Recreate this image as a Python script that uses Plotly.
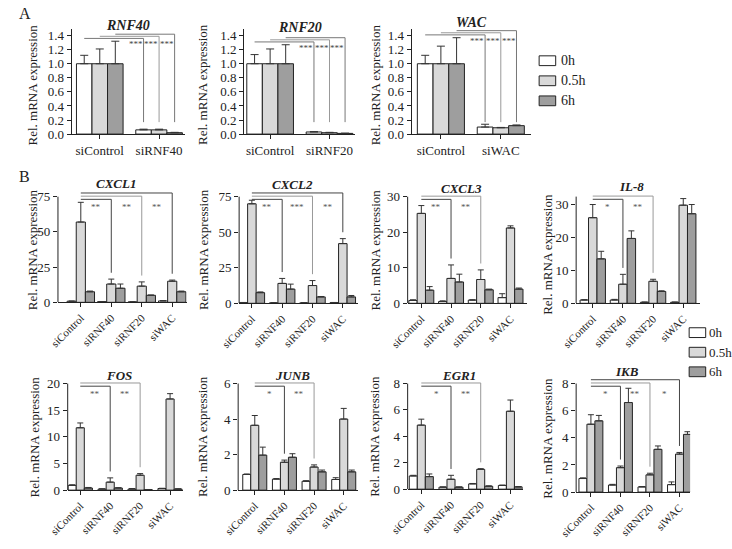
import plotly.graph_objects as go

W, H = 732, 549
FONT = "Liberation Serif, Times New Roman, serif"

# ---------------- data ----------------
series_names = ["0h", "0.5h", "6h"]

# Panel A (knock-down efficiency)
rnf40_cats = ["siControl", "siRNF40"]
rnf40_mean = [[1.0, 0.06], [1.0, 0.06], [1.0, 0.02]]
rnf40_err = [[0.12, 0.01], [0.21, 0.01], [0.32, 0.005]]

rnf20_cats = ["siControl", "siRNF20"]
rnf20_mean = [[1.0, 0.03], [1.0, 0.02], [1.0, 0.01]]
rnf20_err = [[0.13, 0.005], [0.21, 0.005], [0.27, 0.003]]

wac_cats = ["siControl", "siWAC"]
wac_mean = [[1.0, 0.10], [1.0, 0.09], [1.0, 0.12]]
wac_err = [[0.12, 0.04], [0.25, 0.005], [0.37, 0.01]]

a_stars = ["***", "***", "***"]

# Panel B (target genes)
b_cats = ["siControl", "siRNF40", "siRNF20", "siWAC"]

cxcl1_mean = [[0.8, 0.5, 0.3, 1.0], [57.0, 13.0, 11.5, 15.0], [7.5, 10.0, 5.0, 7.5]]
cxcl1_err = [[0.1, 0.1, 0.1, 0.2], [14.0, 3.5, 3.0, 0.8], [0.5, 3.0, 0.2, 0.5]]
cxcl1_targets = [1, 2, 3]
cxcl1_stars = ["**", "**", "**"]

cxcl2_mean = [[0.5, 0.3, 0.3, 0.5], [70.0, 14.0, 12.5, 42.0], [7.5, 10.0, 4.5, 4.5]]
cxcl2_err = [[0.1, 0.1, 0.1, 0.1], [2.5, 3.5, 3.5, 3.5], [0.5, 3.5, 0.3, 1.0]]
cxcl2_targets = [1, 2, 3]
cxcl2_stars = ["**", "***", "**"]

cxcl3_mean = [[0.8, 0.5, 0.9, 1.6], [25.3, 7.0, 6.7, 21.2], [3.7, 6.0, 3.8, 4.0]]
cxcl3_err = [[0.2, 0.2, 0.1, 1.1], [2.2, 3.8, 2.7, 0.6], [1.0, 2.2, 0.2, 0.3]]
cxcl3_targets = [1, 2]
cxcl3_stars = ["**", "**"]

il8_mean = [[1.0, 1.0, 0.3, 0.3], [26.0, 5.8, 6.7, 29.8], [13.5, 19.7, 3.6, 27.2]]
il8_err = [[0.1, 0.2, 0.1, 0.1], [4.0, 3.0, 0.6, 2.0], [2.3, 2.3, 0.2, 2.8]]
il8_targets = [1, 2]
il8_stars = ["*", "**"]

fos_mean = [[0.9, 0.2, 0.2, 0.3], [11.7, 1.5, 2.8, 17.1], [0.4, 0.4, 0.1, 0.2]]
fos_err = [[0.1, 0.05, 0.1, 0.05], [0.9, 0.8, 0.3, 1.0], [0.1, 0.05, 0.02, 0.05]]
fos_targets = [1, 2]
fos_stars = ["**", "**"]

junb_mean = [[0.88, 0.62, 0.5, 0.6], [3.65, 1.57, 1.3, 4.0], [1.97, 1.85, 1.03, 1.03]]
junb_err = [[0.03, 0.03, 0.03, 0.1], [0.55, 0.12, 0.12, 0.6], [0.45, 0.2, 0.1, 0.1]]
junb_targets = [1, 2]
junb_stars = ["*", "**"]

egr1_mean = [[1.0, 0.15, 0.4, 0.28], [4.85, 0.75, 1.5, 5.9], [0.95, 0.15, 0.22, 0.17]]
egr1_err = [[0.05, 0.02, 0.03, 0.03], [0.45, 0.3, 0.05, 0.85], [0.2, 0.02, 0.03, 0.03]]
egr1_targets = [1, 2]
egr1_stars = ["*", "**"]

ikb_mean = [[1.0, 0.52, 0.38, 0.55], [5.0, 1.8, 1.27, 2.8], [5.25, 6.6, 3.15, 4.25]]
ikb_err = [[0.05, 0.05, 0.03, 0.2], [0.7, 0.12, 0.12, 0.12], [0.4, 1.05, 0.25, 0.2]]
ikb_targets = [1, 2, 3]
ikb_stars = ["*", "**", "*"]

# ---------------- styles / layout ----------------
bar_colors = ["#ffffff", "#d9d9d9", "#9e9e9e"]
edge = "#222222"

panels = [
    dict(title="RNF40", cats=rnf40_cats, mean=rnf40_mean, err=rnf40_err, stars=a_stars,
         l=54, r=170, y0=133, yt=32.3, tick_top=1.4, rtop=1.5, xr=[-0.475, 1.43], dtick=0.2,
         fmt=".1f", bw=0.262, ytx=14, tty=22, kind="A"),
    dict(title="RNF20", cats=rnf20_cats, mean=rnf20_mean, err=rnf20_err, stars=a_stars,
         l=231, r=345, y0=133, yt=32.3, tick_top=1.4, rtop=1.5, xr=[-0.44, 1.43], dtick=0.2,
         fmt=".1f", bw=0.262, ytx=189, tty=24, kind="A"),
    dict(title="WAC", cats=wac_cats, mean=wac_mean, err=wac_err, stars=a_stars,
         l=403, r=526, y0=133, yt=32.3, tick_top=1.4, rtop=1.5, xr=[-0.49, 1.51], dtick=0.2,
         fmt=".1f", bw=0.262, ytx=366, tty=19, kind="A"),
    dict(title="CXCL1", cats=b_cats, mean=cxcl1_mean, err=cxcl1_err, targets=cxcl1_targets,
         stars=cxcl1_stars, l=40, r=172, y0=305, yt=197, tick_top=75, axis_top=75, rtop=79.5,
         xr=[-0.75, 3.47], dtick=25, fmt="d", bw=0.3, ytx=14, tty=184, kind="B"),
    dict(title="CXCL2", cats=b_cats, mean=cxcl2_mean, err=cxcl2_err, targets=cxcl2_targets,
         stars=cxcl2_stars, l=226, r=348, y0=306, yt=197, tick_top=75, axis_top=75, rtop=79.5,
         xr=[-0.42, 3.5], dtick=25, fmt="d", bw=0.28, ytx=189, tty=185, kind="B"),
    dict(title="CXCL3", cats=b_cats, mean=cxcl3_mean, err=cxcl3_err, targets=cxcl3_targets,
         stars=cxcl3_stars, l=399, r=522, y0=306, yt=197, tick_top=30, axis_top=30, rtop=31.3,
         xr=[-0.46, 3.57], dtick=10, fmt="d", bw=0.28, ytx=366, tty=189, kind="B"),
    dict(title="IL-8", cats=b_cats, mean=il8_mean, err=il8_err, targets=il8_targets,
         stars=il8_stars, l=572, r=699, y0=306, yt=205, tick_top=30, axis_top=32.4, rtop=33.3,
         xr=[-0.55, 3.55], dtick=10, fmt="d", bw=0.28, ytx=543, tty=187, kind="B"),
    dict(title="FOS", cats=b_cats, mean=fos_mean, err=fos_err, targets=fos_targets,
         stars=fos_stars, l=50, r=168, y0=497, yt=388, tick_top=20, axis_top=20, rtop=20.7,
         xr=[-0.42, 3.42], dtick=5, fmt="d", bw=0.27, ytx=16, tty=380, kind="B"),
    dict(title="JUNB", cats=b_cats, mean=junb_mean, err=junb_err, targets=junb_targets,
         stars=junb_stars, l=225, r=348, y0=497, yt=388, tick_top=6, axis_top=6, rtop=6.4,
         xr=[-0.56, 3.48], dtick=2, fmt="d", bw=0.27, ytx=189, tty=380, kind="B"),
    dict(title="EGR1", cats=b_cats, mean=egr1_mean, err=egr1_err, targets=egr1_targets,
         stars=egr1_stars, l=399, r=517, y0=496, yt=388, tick_top=8, axis_top=8, rtop=8.25,
         xr=[-0.46, 3.41], dtick=2, fmt="d", bw=0.27, ytx=365, tty=380, kind="B"),
    dict(title="IKB", cats=b_cats, mean=ikb_mean, err=ikb_err, targets=ikb_targets,
         stars=ikb_stars, l=572, r=689, y0=499, yt=388, tick_top=8, axis_top=8, rtop=8.5,
         xr=[-0.5, 3.36], dtick=2, fmt="d", bw=0.27, ytx=543, tty=376, kind="B"),
]


def fx(px):
    return px / W


def fy(px):
    return 1 - px / H


fig = go.Figure()
layout = dict(
    width=W, height=H, margin=dict(l=0, r=0, t=0, b=0),
    paper_bgcolor="white", plot_bgcolor="white", showlegend=False,
    barmode="overlay", font=dict(family=FONT, color="#222222", size=13),
)
shapes = []
annotations = []

for i, p in enumerate(panels, start=1):
    xs = "x" if i == 1 else f"x{i}"
    ys = "y" if i == 1 else f"y{i}"
    xk = "xaxis" if i == 1 else f"xaxis{i}"
    yk = "yaxis" if i == 1 else f"yaxis{i}"
    n = len(p["cats"])
    bw = p["bw"]
    ppu = (p["y0"] - p["yt"]) / p["tick_top"]  # pixels per data unit
    top_px = p["y0"] - p["rtop"] * ppu
    is_a = p["kind"] == "A"

    for k in range(3):
        fig.add_trace(go.Bar(
            x=list(range(n)), y=p["mean"][k], width=bw, offset=-1.5 * bw + k * bw,
            marker=dict(color=bar_colors[k], line=dict(color=edge, width=1)),
            error_y=dict(type="data", symmetric=False, array=p["err"][k],
                         arrayminus=[0] * n, color="#333333", thickness=1,
                         width=4 if is_a else 3),
            xaxis=xs, yaxis=ys, name=series_names[k], hoverinfo="skip",
        ))

    layout[xk] = dict(
        domain=[fx(p["l"]), fx(p["r"])], anchor=ys, range=p["xr"],
        tickvals=list(range(n)), ticktext=p["cats"], tickangle=0 if is_a else -45,
        showline=True, linecolor=edge, linewidth=1, ticks="outside", ticklen=4,
        tickcolor=edge, showgrid=False, zeroline=False,
        tickfont=dict(family=FONT, size=13 if is_a else 11, color="#222222"),
    )
    layout[yk] = dict(
        domain=[fy(p["y0"]), fy(top_px)], anchor=xs, range=[0, p["rtop"]],
        tick0=0, dtick=p["dtick"], tickformat=p["fmt"],
        showline=is_a, linecolor=edge, linewidth=1, ticks="outside", ticklen=4,
        tickcolor=edge, showgrid=False, zeroline=False,
        tickfont=dict(family=FONT, size=13, color="#222222"),
    )
    if not is_a:
        shapes.append(dict(type="line", xref=f"{xs} domain", x0=0, x1=0, yref=ys,
                           y0=0, y1=p["axis_top"], line=dict(color=edge, width=1)))

    annotations.append(dict(
        text=f"<b><i>{p['title']}</i></b>", xref=f"{xs} domain", x=0.5 if is_a else 0.45,
        yref="paper", y=fy(p["tty"]), showarrow=False, xanchor="center", yanchor="middle",
        font=dict(family=FONT, size=14 if is_a else 13, color="#222222"),
    ))
    annotations.append(dict(
        text="Rel. mRNA expression", xref="paper", x=fx(p["ytx"]), yref="paper",
        y=fy((p["y0"] + p["y0"] - p["tick_top"] * ppu) / 2), textangle=-90,
        showarrow=False, xanchor="center", yanchor="middle",
        font=dict(family=FONT, size=13, color="#222222"),
    ))

    if is_a:
        top_ctrl = max(p["mean"][k][0] + p["err"][k][0] for k in range(3))
        L0 = top_ctrl + 0.04
        step = 0.03
        bottom = 0.17
        for k in range(3):
            xc = 0 + (k - 1) * bw
            xt = 1 + (k - 1) * bw
            L = L0 + k * step
            col = "#777777" if k != 1 else "#999999"
            shapes.append(dict(type="line", xref=xs, yref=ys, x0=xc, x1=xt, y0=L, y1=L,
                               line=dict(color=col, width=1)))
            shapes.append(dict(type="line", xref=xs, yref=ys, x0=xt, x1=xt, y0=L, y1=bottom,
                               line=dict(color=col, width=1)))
            annotations.append(dict(
                text=p["stars"][k], xref=xs, yref=ys, x=xt - bw / 2, y=L0 - 6 / ppu,
                showarrow=False, xanchor="center", yanchor="middle",
                font=dict(family=FONT, size=9, color="#444444"),
            ))
    else:
        ytop = p["axis_top"]
        L0 = 0.975 * ytop
        step = 0.03 * ytop
        prev = 0
        for j, t in enumerate(p["targets"]):
            L = L0 + j * step
            col = "#999999" if t == 2 else "#444444"
            bottom = p["mean"][1][t] + p["err"][1][t] + 0.06 * ytop
            shapes.append(dict(type="line", xref=xs, yref=ys, x0=0, x1=t, y0=L, y1=L,
                               line=dict(color=col, width=1)))
            shapes.append(dict(type="line", xref=xs, yref=ys, x0=t, x1=t, y0=L, y1=bottom,
                               line=dict(color=col, width=1)))
            annotations.append(dict(
                text=p["stars"][j], xref=xs, yref=ys, x=(prev + t) / 2, y=L0 - 8 / ppu,
                showarrow=False, xanchor="center", yanchor="middle",
                font=dict(family=FONT, size=9, color="#555555"),
            ))
            prev = t

# legends (manual)
for rows, bx0, bx1, tx, fs in (([58, 78.5, 99], 534, 551, 555, 14),
                               ([336, 356, 376], 688, 705, 707, 13)):
    for k, ry in enumerate(rows):
        shapes.append(dict(type="rect", xref="paper", yref="paper",
                           x0=fx(bx0), x1=fx(bx1), y0=fy(ry - 5), y1=fy(ry + 5),
                           fillcolor=bar_colors[k], line=dict(color=edge, width=1)))
        annotations.append(dict(text=series_names[k], xref="paper", yref="paper",
                                x=fx(tx), y=fy(ry), showarrow=False, xanchor="left",
                                yanchor="middle", borderpad=0,
                                font=dict(family=FONT, size=fs, color="#222222")))

for letter, lx, ly in (("A", 6, 10), ("B", 6, 176)):
    annotations.append(dict(text=letter, xref="paper", yref="paper", x=fx(lx), y=fy(ly),
                            showarrow=False, xanchor="center", yanchor="middle",
                            font=dict(family=FONT, size=16, color="#222222")))

layout["shapes"] = shapes
layout["annotations"] = annotations
fig.update_layout(**layout)
fig.write_html("out.html", config={"displayModeBar": False},
               post_script="document.body.style.margin='0';")
